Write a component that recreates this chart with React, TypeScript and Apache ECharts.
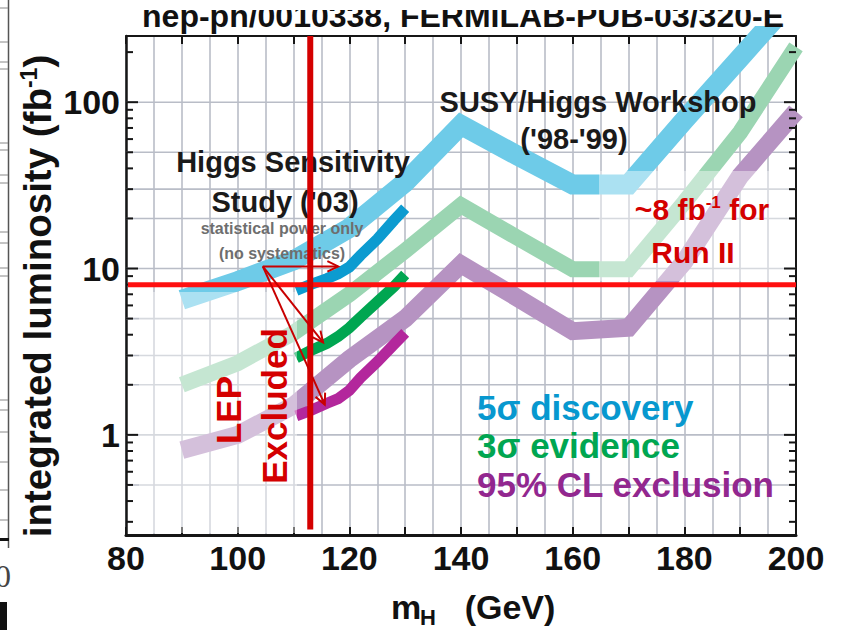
import React, { useEffect, useRef } from "react";
import * as echarts from "echarts";

const FONT = '"Liberation Sans", Arial, Helvetica, sans-serif';

// SUSY/Higgs Workshop ('98-'99) required luminosity vs Higgs mass
const massGeV = [90, 100, 110, 120, 130, 140, 150, 160, 170, 180, 190, 200];
const workshop5Sigma = [6.5, 8.4, 11.2, 17.5, 33, 73, 48, 32, 32, 78, 185, 440];
const workshop3Sigma = [2.0, 2.7, 4.1, 7.0, 12.8, 24, 15.4, 9.9, 9.9, 25, 66, 215];
const workshop95CL = [0.81, 1.0, 1.5, 2.85, 5.0, 10.6, 6.7, 4.2, 4.4, 11, 36, 88];

// Higgs Sensitivity Study ('03), statistical power only
const studyMassGeV = [110.5, 113, 116, 118, 120, 122, 125, 128, 130];
const study5Sigma = [7.4, 8.0, 8.7, 9.3, 10.2, 12.0, 15.0, 19.5, 23];
const study3Sigma = [2.9, 3.2, 3.55, 3.9, 4.4, 5.1, 6.3, 7.8, 9.2];
const study95CL = [1.3, 1.4, 1.55, 1.65, 1.85, 2.2, 2.75, 3.5, 4.1];

// reference lines
const lepExcludedGeV = 113;
const runIILumi = 8;
const lepLineBottom = 0.27;

// annotation arrows pointing at the '03 curves
const arrowOrigin = [104.5, 10.3];
const arrowTips = [
  [118, 10.3],
  [115.3, 3.6],
  [115.6, 1.52],
];

// axes
const xTickLabels = [80, 100, 120, 140, 160, 180, 200];
const yTickLabels = [1, 10, 100];
const yGridValues = [0.5, 1, 2, 3, 5, 10, 20, 30, 50, 100];
const yMinorTicks = [
  0.3, 0.4, 0.5, 0.6, 0.7, 0.8, 0.9, 2, 3, 4, 5, 6, 7, 8, 9, 20, 30, 40, 50,
  60, 70, 80, 90, 200,
];

const X_MIN = 80;
const X_MAX = 200;
const Y_MIN = 0.25;
const Y_MAX = 250;

const GRID_COLOR = "#b9bdc7";
const AXIS_COLOR = "#161616";
const RED = "#d40000";

const pairs = (xs: number[], ys: number[]) => xs.map((x, i) => [x, ys[i]]);

function renderGridLines(params: any, api: any) {
  const cs = params.coordSys;
  const children: any[] = [];
  for (const v of yGridValues) {
    const y = api.coord([X_MIN, v])[1];
    children.push({
      type: "line",
      shape: { x1: cs.x, y1: y, x2: cs.x + cs.width, y2: y },
      style: { stroke: GRID_COLOR, lineWidth: 1.6 },
    });
  }
  return { type: "group", children };
}

function renderYTicks(params: any, api: any) {
  const cs = params.coordSys;
  const left = cs.x;
  const right = cs.x + cs.width;
  const children: any[] = [];
  const tick = (v: number, len: number) => {
    const y = api.coord([X_MIN, v])[1];
    children.push({
      type: "line",
      shape: { x1: left, y1: y, x2: left + len, y2: y },
      style: { stroke: AXIS_COLOR, lineWidth: 2 },
    });
    children.push({
      type: "line",
      shape: { x1: right - len, y1: y, x2: right, y2: y },
      style: { stroke: AXIS_COLOR, lineWidth: 2 },
    });
  };
  yTickLabels.forEach((v) => tick(v, 12));
  yMinorTicks.forEach((v) => tick(v, 7));
  return { type: "group", children };
}

function renderRedLines(params: any, api: any) {
  const cs = params.coordSys;
  const x = api.coord([api.value(0), 1])[0];
  const yBottom = api.coord([api.value(0), lepLineBottom])[1];
  const yH = api.coord([X_MIN, api.value(1)])[1];
  return {
    type: "group",
    children: [
      {
        type: "line",
        shape: { x1: cs.x + 2, y1: yH, x2: cs.x + cs.width, y2: yH },
        style: { stroke: "#ff1010", lineWidth: 5 },
      },
      {
        type: "line",
        shape: { x1: x, y1: cs.y, x2: x, y2: yBottom },
        style: { stroke: RED, lineWidth: 6 },
      },
    ],
  };
}

function renderArrow(params: any, api: any) {
  const o = api.coord(arrowOrigin);
  const t = api.coord([api.value(0), api.value(1)]);
  const ang = Math.atan2(t[1] - o[1], t[0] - o[0]);
  const head = 12;
  const spread = 0.45;
  const a1 = [t[0] - head * Math.cos(ang - spread), t[1] - head * Math.sin(ang - spread)];
  const a2 = [t[0] - head * Math.cos(ang + spread), t[1] - head * Math.sin(ang + spread)];
  const style = { stroke: "#c80000", lineWidth: 2, fill: null };
  return {
    type: "group",
    children: [
      { type: "line", shape: { x1: o[0], y1: o[1], x2: t[0], y2: t[1] }, style },
      { type: "polyline", shape: { points: [a1, t, a2] }, style },
    ],
  };
}

function text(
  str: string,
  x: number,
  y: number,
  size: number,
  fill: string,
  extra: any = {}
) {
  return {
    type: "text",
    x,
    y,
    z: 20,
    silent: true,
    ...extra,
    style: {
      text: str,
      fill,
      font: `bold ${size}px ${FONT}`,
      textAlign: extra.align || "center",
      textVerticalAlign: "middle",
    },
  };
}

function buildOption(): any {
  const lineSeries = (
    name: string,
    xs: number[],
    ys: number[],
    color: string,
    width: number,
    z: number
  ) => ({
    name,
    type: "line",
    data: pairs(xs, ys),
    showSymbol: false,
    symbol: "none",
    silent: true,
    z,
    lineStyle: { color, width, cap: "butt", join: "miter", miterLimit: 4 },
  });

  const xAxisBase = {
    type: "value",
    min: X_MIN,
    max: X_MAX,
    interval: 10,
  };

  const leftRules = [8, 42, 62, 69, 143, 150, 175, 183, 232, 243, 268, 276, 400, 410, 432, 462, 490, 520];

  return {
    animation: false,
    backgroundColor: "#ffffff",
    grid: { left: 126, right: 48, top: 36, bottom: 95, containLabel: false },
    xAxis: [
      {
        ...xAxisBase,
        position: "bottom",
        axisLine: { show: true, onZero: false, lineStyle: { color: AXIS_COLOR, width: 3 } },
        axisTick: { show: true, inside: true, length: 8, lineStyle: { color: AXIS_COLOR, width: 2 } },
        axisLabel: {
          show: true,
          margin: 6,
          formatter: (v: number) => (xTickLabels.includes(v) ? String(v) : ""),
          fontFamily: FONT,
          fontWeight: "bold",
          fontSize: 34,
          color: "#111",
        },
        splitLine: { show: true, lineStyle: { color: GRID_COLOR, width: 1.6 } },
        minorTick: { show: false, splitNumber: 2 },
        minorSplitLine: { show: true, lineStyle: { color: GRID_COLOR, width: 1.6 } },
      },
      {
        ...xAxisBase,
        position: "top",
        axisLine: { show: true, onZero: false, lineStyle: { color: AXIS_COLOR, width: 2 } },
        axisTick: { show: true, inside: true, length: 8, lineStyle: { color: AXIS_COLOR, width: 2 } },
        axisLabel: { show: false },
        splitLine: { show: false },
      },
    ],
    yAxis: [
      {
        type: "log",
        logBase: 10,
        min: Y_MIN,
        max: Y_MAX,
        axisLine: { show: true, onZero: false, lineStyle: { color: AXIS_COLOR, width: 2.5 } },
        axisTick: { show: false },
        splitLine: { show: false },
        axisLabel: {
          margin: 6,
          formatter: (v: number) => {
            const hit = yTickLabels.find((t) => Math.abs(t - v) < 1e-6 * t);
            return hit !== undefined ? String(hit) : "";
          },
          fontFamily: FONT,
          fontWeight: "bold",
          fontSize: 34,
          color: "#111",
        },
      },
      {
        type: "log",
        logBase: 10,
        min: Y_MIN,
        max: Y_MAX,
        position: "right",
        axisLine: { show: true, onZero: false, lineStyle: { color: AXIS_COLOR, width: 2 } },
        axisTick: { show: false },
        axisLabel: { show: false },
        splitLine: { show: false },
      },
    ],
    series: [
      {
        type: "custom",
        name: "grid",
        renderItem: renderGridLines,
        data: [[X_MIN, 1]],
        silent: true,
        z: 1,
      },
      lineSeries("5σ discovery ('98-'99)", massGeV, workshop5Sigma, "#6ecbe8", 20, 3),
      lineSeries("3σ evidence ('98-'99)", massGeV, workshop3Sigma, "#9bd5b2", 16, 3),
      lineSeries("95% CL exclusion ('98-'99)", massGeV, workshop95CL, "#b693c2", 18, 3),
      lineSeries("5σ discovery ('03)", studyMassGeV, study5Sigma, "#0c9bd0", 11, 4),
      lineSeries("3σ evidence ('03)", studyMassGeV, study3Sigma, "#00a651", 11, 4),
      lineSeries("95% CL exclusion ('03)", studyMassGeV, study95CL, "#b3279c", 11, 4),
      {
        type: "custom",
        name: "ticks",
        renderItem: renderYTicks,
        data: [[X_MIN, 1]],
        silent: true,
        z: 8,
      },
      {
        type: "custom",
        name: "limits",
        renderItem: renderRedLines,
        data: [[lepExcludedGeV, runIILumi]],
        silent: true,
        z: 25,
      },
      {
        type: "custom",
        name: "arrows",
        renderItem: renderArrow,
        data: arrowTips,
        silent: true,
        z: 26,
      },
    ],
    graphic: [
      // faded backdrops behind the LEP region and the Run II label
      {
        type: "rect",
        z: 5,
        silent: true,
        shape: { x: 139, y: 292, width: 158, height: 241 },
        style: { fill: "rgba(255,255,255,0.42)" },
      },
      {
        type: "rect",
        z: 5,
        silent: true,
        shape: { x: 599, y: 171, width: 196, height: 110 },
        style: { fill: "rgba(255,255,255,0.42)" },
      },
      // header line, trimmed at the top edge
      text("hep-ph/0010338, FERMILAB-PUB-03/320-E", 463, 16, 32, "#111"),
      {
        type: "rect",
        z: 21,
        silent: true,
        shape: { x: 120, y: -5, width: 700, height: 15 },
        style: { fill: "#ffffff" },
      },
      // neighbouring panel edge
      {
        type: "line",
        z: 1,
        silent: true,
        shape: { x1: 8.5, y1: 0, x2: 8.5, y2: 548 },
        style: { stroke: "#555", lineWidth: 1.5 },
      },
      ...leftRules.map((y) => ({
        type: "line",
        z: 1,
        silent: true,
        shape: { x1: 0, y1: y, x2: 8, y2: y },
        style: { stroke: "#888", lineWidth: 1 },
      })),
      {
        type: "rect",
        z: 1,
        silent: true,
        shape: { x: 0, y: 538, width: 9, height: 3 },
        style: { fill: "#111" },
      },
      {
        type: "text",
        z: 1,
        silent: true,
        x: 3,
        y: 576,
        style: {
          text: "0",
          fill: "#444",
          font: '32px "Liberation Serif", serif',
          textAlign: "center",
          textVerticalAlign: "middle",
        },
      },
      {
        type: "rect",
        z: 1,
        silent: true,
        shape: { x: 0, y: 602, width: 7, height: 28 },
        style: { fill: "#111" },
      },
      // axis titles
      {
        type: "text",
        x: 37,
        y: 296,
        rotation: Math.PI / 2,
        z: 20,
        silent: true,
        style: {
          text: "{a|integrated luminosity (fb}{s|-1}{a|)}",
          textAlign: "center",
          textVerticalAlign: "middle",
          rich: {
            a: { font: `bold 38.5px ${FONT}`, fill: "#111", verticalAlign: "middle" },
            s: { font: `bold 23px ${FONT}`, fill: "#111", verticalAlign: "top" },
          },
        },
      },
      text("m", 406, 607, 34, "#111"),
      text("H", 428, 617, 22, "#111"),
      text("(GeV)", 510, 607, 34, "#111"),
      // annotations
      text("SUSY/Higgs Workshop", 598, 102, 29, "#1a1a1a"),
      text("('98-'99)", 574, 139, 29, "#1a1a1a"),
      text("Higgs Sensitivity", 293, 162, 29, "#1a1a1a"),
      text("Study ('03)", 285, 202, 29, "#1a1a1a"),
      text("statistical power only", 282, 228, 16, "#6e6e6e"),
      text("(no systematics)", 282, 253, 16, "#6e6e6e"),
      {
        type: "text",
        x: 702,
        y: 209,
        z: 20,
        silent: true,
        style: {
          text: "{a|~8 fb}{s|-1}{a| for}",
          textAlign: "center",
          textVerticalAlign: "middle",
          rich: {
            a: { font: `bold 30px ${FONT}`, fill: RED, verticalAlign: "middle" },
            s: { font: `bold 17px ${FONT}`, fill: RED, verticalAlign: "top" },
          },
        },
      },
      text("Run II", 693, 252, 30, RED),
      text("LEP", 228, 410, 35, RED, { rotation: Math.PI / 2 }),
      text("Excluded", 274, 406, 35, RED, { rotation: Math.PI / 2 }),
      // legend
      text("5σ discovery", 477, 407, 35, "#0798cf", { align: "left" }),
      text("3σ evidence", 477, 445, 35, "#00a651", { align: "left" }),
      text("95% CL exclusion", 477, 484, 35, "#92278f", { align: "left" }),
    ],
  };
}

export default function App() {
  const ref = useRef<HTMLDivElement>(null);
  useEffect(() => {
    if (!ref.current) return;
    const chart = echarts.init(ref.current, undefined, { renderer: "svg" });
    chart.setOption(buildOption());
    return () => {
      chart.dispose();
    };
  }, []);
  return (
    <div
      ref={ref}
      style={{
        position: "fixed",
        left: 0,
        top: 0,
        width: 844,
        height: 630,
        background: "#ffffff",
      }}
    />
  );
}
